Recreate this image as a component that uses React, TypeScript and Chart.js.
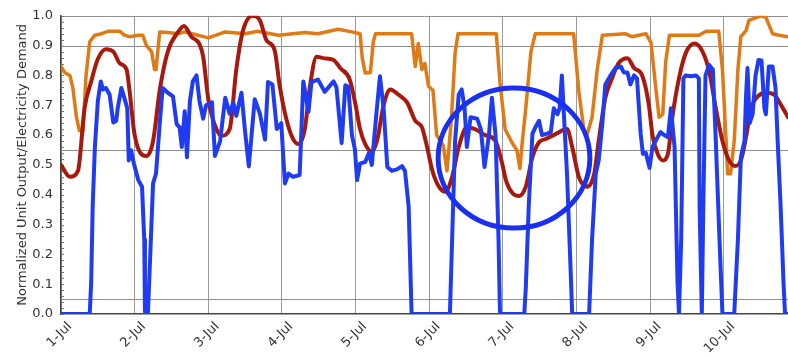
import React, { useEffect, useRef } from 'react';
import { Chart, registerables } from 'chart.js';

Chart.register(...registerables);

const FONT = '"DejaVu Sans", Verdana, sans-serif';

const dayTicks = [0, 1, 2, 3, 4, 5, 6, 7, 8, 9];
const dayLabels = ['1-Jul', '2-Jul', '3-Jul', '4-Jul', '5-Jul', '6-Jul', '7-Jul', '8-Jul', '9-Jul', '10-Jul'];
const xMin = 0;
const xMax = 9.87;
const yMin = 0;
const yMax = 1;
const yStep = 0.1;
const minorStep = 0.02;
const refLines = [0.05, 0.55, 0.9, 1.0];
const yTitle = 'Normalized Unit Output/Electricity Demand';

// [day offset from 1-Jul, normalized value]
const unitOutput: [number, number][] = [
  [0, 0], [0.39, 0], [0.41, 0.107], [0.43, 0.36], [0.46, 0.56], [0.5, 0.714], [0.54, 0.78], [0.57, 0.753], [0.61, 0.758], [0.66, 0.736],
  [0.71, 0.642], [0.75, 0.648], [0.77, 0.69], [0.82, 0.758], [0.86, 0.725], [0.9, 0.69], [0.92, 0.515], [0.95, 0.549], [0.99, 0.504], [1.05, 0.449],
  [1.1, 0.427], [1.13, 0.25], [1.14, 0.008], [1.18, 0], [1.22, 0.25], [1.25, 0.438], [1.29, 0.471], [1.34, 0.637], [1.38, 0.758], [1.45, 0.742],
  [1.52, 0.73], [1.57, 0.637], [1.61, 0.626], [1.64, 0.56], [1.68, 0.68], [1.71, 0.526], [1.75, 0.714], [1.79, 0.78], [1.84, 0.8], [1.88, 0.714],
  [1.93, 0.655], [1.97, 0.7], [2.05, 0.71], [2.09, 0.53], [2.16, 0.58], [2.23, 0.725], [2.29, 0.672], [2.34, 0.709], [2.38, 0.665], [2.45, 0.742],
  [2.5, 0.61], [2.55, 0.495], [2.63, 0.72], [2.7, 0.672], [2.77, 0.585], [2.81, 0.778], [2.87, 0.77], [2.93, 0.62], [2.99, 0.64], [3.04, 0.438],
  [3.09, 0.471], [3.15, 0.46], [3.24, 0.466], [3.29, 0.78], [3.36, 0.678], [3.4, 0.778], [3.49, 0.786], [3.58, 0.745], [3.7, 0.78], [3.74, 0.76],
  [3.81, 0.573], [3.86, 0.767], [3.9, 0.762], [3.95, 0.6], [3.99, 0.552], [4.02, 0.449], [4.06, 0.504], [4.13, 0.51], [4.18, 0.54], [4.22, 0.5],
  [4.27, 0.64], [4.33, 0.797], [4.38, 0.69], [4.43, 0.493], [4.49, 0.48], [4.56, 0.485], [4.63, 0.496], [4.67, 0.48], [4.72, 0.36], [4.76, 0],
  [5.28, 0], [5.31, 0.25], [5.35, 0.58], [5.4, 0.736], [5.44, 0.753], [5.48, 0.69], [5.51, 0.56], [5.56, 0.66], [5.65, 0.655], [5.7, 0.62],
  [5.75, 0.493], [5.81, 0.6], [5.85, 0.725], [5.9, 0.6], [5.94, 0.25], [5.96, 0], [6.29, 0], [6.31, 0.086], [6.35, 0.36], [6.4, 0.604],
  [6.44, 0.626], [6.49, 0.648], [6.53, 0.6], [6.6, 0.605], [6.65, 0.61], [6.69, 0.69], [6.74, 0.67], [6.77, 0.69], [6.8, 0.8], [6.84, 0.61],
  [6.87, 0.47], [6.92, 0.14], [6.94, 0], [7.17, 0], [7.21, 0.25], [7.26, 0.47], [7.3, 0.515], [7.35, 0.64], [7.39, 0.77], [7.46, 0.8],
  [7.53, 0.825], [7.6, 0.83], [7.64, 0.81], [7.69, 0.81], [7.73, 0.77], [7.78, 0.8], [7.82, 0.79], [7.87, 0.604], [7.9, 0.537], [7.94, 0.54],
  [7.99, 0.49], [8.03, 0.56], [8.1, 0.593], [8.14, 0.61], [8.19, 0.6], [8.24, 0.593], [8.28, 0.69], [8.33, 0.56], [8.37, 0.107], [8.39, 0],
  [8.42, 0.25], [8.45, 0.79], [8.48, 0.8], [8.55, 0.797], [8.62, 0.8], [8.66, 0.79], [8.67, 0.36], [8.7, 0], [8.72, 0.36], [8.75, 0.8],
  [8.8, 0.835], [8.85, 0.82], [8.89, 0.58], [8.94, 0.25], [8.98, 0], [9.14, 0], [9.19, 0.25], [9.23, 0.526], [9.28, 0.58], [9.3, 0.73],
  [9.32, 0.825], [9.35, 0.64], [9.39, 0.67], [9.43, 0.8], [9.47, 0.852], [9.51, 0.85], [9.55, 0.69], [9.57, 0.67], [9.61, 0.83], [9.66, 0.83],
  [9.7, 0.76], [9.73, 0.58], [9.77, 0.36], [9.81, 0.1], [9.83, 0], [9.87, 0],
];

const demand: [number, number][] = [
  [0, 0.5], [0.12, 0.46], [0.23, 0.48], [0.32, 0.69], [0.41, 0.78], [0.5, 0.855], [0.61, 0.888], [0.71, 0.88], [0.8, 0.84], [0.89, 0.82],
  [0.93, 0.75], [1.0, 0.6], [1.16, 0.53], [1.25, 0.58], [1.34, 0.75], [1.45, 0.88], [1.59, 0.946], [1.67, 0.966], [1.77, 0.93], [1.88, 0.905],
  [1.93, 0.863], [2.0, 0.72], [2.11, 0.62], [2.18, 0.598], [2.29, 0.62], [2.38, 0.82], [2.47, 0.95], [2.6, 1.0], [2.7, 0.985], [2.79, 0.918],
  [2.9, 0.885], [2.97, 0.764], [3.06, 0.653], [3.15, 0.587], [3.22, 0.57], [3.31, 0.62], [3.38, 0.764], [3.47, 0.863], [3.56, 0.858], [3.7, 0.852],
  [3.79, 0.825], [3.92, 0.786], [4.0, 0.7], [4.06, 0.62], [4.13, 0.57], [4.22, 0.545], [4.29, 0.58], [4.38, 0.7], [4.47, 0.753], [4.58, 0.736],
  [4.7, 0.709], [4.81, 0.648], [4.9, 0.626], [4.97, 0.56], [5.04, 0.482], [5.13, 0.427], [5.22, 0.41], [5.31, 0.46], [5.4, 0.56], [5.51, 0.626],
  [5.62, 0.62], [5.76, 0.6], [5.9, 0.58], [5.99, 0.504], [6.04, 0.449], [6.13, 0.405], [6.22, 0.396], [6.31, 0.427], [6.4, 0.526], [6.49, 0.576],
  [6.58, 0.587], [6.72, 0.604], [6.87, 0.62], [6.94, 0.56], [7.03, 0.46], [7.14, 0.427], [7.24, 0.471], [7.3, 0.58], [7.39, 0.725], [7.48, 0.79],
  [7.57, 0.841], [7.69, 0.858], [7.78, 0.825], [7.89, 0.8], [7.98, 0.703], [8.03, 0.6], [8.1, 0.537], [8.17, 0.515], [8.24, 0.537], [8.3, 0.66],
  [8.39, 0.79], [8.48, 0.874], [8.6, 0.907], [8.71, 0.88], [8.8, 0.814], [8.89, 0.69], [8.98, 0.58], [9.07, 0.515], [9.15, 0.496], [9.23, 0.515],
  [9.3, 0.593], [9.37, 0.69], [9.46, 0.73], [9.57, 0.742], [9.68, 0.736], [9.77, 0.703], [9.87, 0.66],
];

const baseUnit: [number, number][] = [
  [0, 0.83], [0.05, 0.81], [0.12, 0.8], [0.16, 0.76], [0.21, 0.66], [0.25, 0.615], [0.3, 0.615], [0.34, 0.8], [0.39, 0.913], [0.46, 0.935],
  [0.55, 0.94], [0.64, 0.948], [0.8, 0.948], [0.86, 0.935], [0.93, 0.93], [1.05, 0.935], [1.11, 0.935], [1.16, 0.9], [1.23, 0.88], [1.27, 0.82],
  [1.29, 0.82], [1.34, 0.946], [1.45, 0.944], [1.59, 0.94], [1.68, 0.946], [1.86, 0.935], [2.0, 0.926], [2.23, 0.946], [2.5, 0.94], [2.67, 0.948],
  [2.95, 0.935], [3.31, 0.944], [3.49, 0.94], [3.76, 0.955], [3.95, 0.946], [4.06, 0.94], [4.09, 0.858], [4.13, 0.808], [4.2, 0.81], [4.24, 0.913],
  [4.27, 0.94], [4.76, 0.94], [4.81, 0.83], [4.85, 0.907], [4.9, 0.82], [4.94, 0.84], [4.99, 0.764], [5.05, 0.75], [5.1, 0.6], [5.19, 0.565],
  [5.24, 0.48], [5.3, 0.653], [5.35, 0.874], [5.39, 0.94], [5.91, 0.94], [5.96, 0.775], [6.03, 0.62], [6.12, 0.576], [6.19, 0.549], [6.23, 0.488],
  [6.26, 0.57], [6.31, 0.69], [6.38, 0.88], [6.44, 0.94], [6.96, 0.94], [7.03, 0.747], [7.1, 0.615], [7.14, 0.6], [7.21, 0.66], [7.28, 0.82],
  [7.35, 0.935], [7.66, 0.94], [7.75, 0.93], [7.94, 0.94], [8.01, 0.91], [8.08, 0.747], [8.12, 0.66], [8.17, 0.67], [8.21, 0.847], [8.26, 0.935],
  [8.66, 0.935], [8.76, 0.948], [8.93, 0.948], [8.98, 0.82], [9.03, 0.58], [9.05, 0.47], [9.09, 0.47], [9.14, 0.58], [9.19, 0.82], [9.23, 0.93],
  [9.3, 0.95], [9.34, 0.985], [9.5, 1.0], [9.57, 0.995], [9.66, 0.94], [9.75, 0.935], [9.87, 0.93],
];

// highlight ellipse, in data units (center day, center value, radius in days, radius in value)
const highlight = { x: 6.15, y: 0.523, rx: 1.03, ry: 0.235 };

const toXY = (pts: [number, number][]) => pts.map(([x, y]) => ({ x, y }));

const overlayPlugin = {
  id: 'overlay',
  beforeDatasetsDraw(chart: any) {
    const { ctx, chartArea, scales } = chart;
    const ys = scales.y;
    ctx.save();
    ctx.strokeStyle = '#8f8f8f';
    ctx.lineWidth = 1;
    refLines.forEach((v) => {
      const py = Math.round(ys.getPixelForValue(v)) + 0.5;
      ctx.beginPath();
      ctx.moveTo(chartArea.left, py);
      ctx.lineTo(chartArea.right, py);
      ctx.stroke();
    });
    ctx.strokeStyle = '#777';
    const n = Math.round((yMax - yMin) / minorStep);
    for (let i = 0; i <= n; i++) {
      const py = Math.round(ys.getPixelForValue(yMin + i * minorStep)) + 0.5;
      ctx.beginPath();
      ctx.moveTo(chartArea.left, py);
      ctx.lineTo(chartArea.left + 3, py);
      ctx.stroke();
    }
    ctx.restore();
  },
  afterDatasetsDraw(chart: any) {
    const { ctx, scales } = chart;
    const xs = scales.x;
    const ys = scales.y;
    const cx = xs.getPixelForValue(highlight.x);
    const cy = ys.getPixelForValue(highlight.y);
    const rx = Math.abs(xs.getPixelForValue(highlight.x + highlight.rx) - cx);
    const ry = Math.abs(ys.getPixelForValue(highlight.y + highlight.ry) - cy);
    ctx.save();
    ctx.strokeStyle = '#1a30f0';
    ctx.lineWidth = 5;
    ctx.beginPath();
    ctx.ellipse(cx, cy, rx, ry, 0, 0, Math.PI * 2);
    ctx.stroke();
    ctx.restore();
  },
};

export default function App() {
  const ref = useRef<HTMLCanvasElement | null>(null);

  useEffect(() => {
    if (!ref.current) return;
    const lineStyle = {
      pointRadius: 0,
      borderWidth: 4,
      borderJoinStyle: 'round' as const,
      borderCapStyle: 'round' as const,
      fill: false,
    };
    const chart = new Chart(ref.current, {
      type: 'line',
      data: {
        datasets: [
          { ...lineStyle, label: 'Unit output', data: toXY(unitOutput), borderColor: '#1f3cf2', tension: 0 },
          { ...lineStyle, label: 'Electricity demand', data: toXY(demand), borderColor: '#a8190d', cubicInterpolationMode: 'monotone' },
          { ...lineStyle, label: 'Base unit', data: toXY(baseUnit), borderColor: '#e07a14', borderWidth: 3.5, tension: 0 },
        ],
      },
      options: {
        animation: false,
        responsive: true,
        maintainAspectRatio: false,
        events: [],
        layout: { padding: { top: 12, right: 0, bottom: 0, left: 0 } },
        plugins: { legend: { display: false }, tooltip: { enabled: false } },
        scales: {
          x: {
            type: 'linear',
            min: xMin,
            max: xMax,
            afterBuildTicks: (s: any) => {
              s.ticks = dayTicks.map((v) => ({ value: v }));
            },
            afterFit: (s: any) => {
              s.height = 44;
              s.paddingLeft = 0;
              s.paddingRight = 0;
            },
            ticks: {
              autoSkip: false,
              minRotation: 45,
              maxRotation: 45,
              padding: 5,
              labelOffset: 9,
              color: '#333',
              font: { family: FONT, size: 13 },
              callback: (v: any) => dayLabels[dayTicks.indexOf(Number(v))] ?? '',
            },
            grid: { color: '#9a9a9a', lineWidth: 1, drawTicks: false },
            border: { color: '#444', width: 1.5 },
          },
          y: {
            min: yMin,
            max: yMax,
            afterFit: (s: any) => {
              s.width = 61;
            },
            ticks: {
              stepSize: yStep,
              padding: 8,
              color: '#333',
              font: { family: FONT, size: 13 },
              callback: (v: any) => Number(v).toFixed(1),
            },
            grid: { drawOnChartArea: false, drawTicks: false },
            border: { color: '#444', width: 1.5 },
            title: {
              display: true,
              text: yTitle,
              color: '#333',
              font: { family: FONT, size: 13 },
              padding: { top: 15, bottom: 0 },
            },
          },
        },
      },
      plugins: [overlayPlugin],
    } as any);
    return () => chart.destroy();
  }, []);

  return (
    <div style={{ position: 'fixed', left: 0, top: 0, width: 788, height: 358, background: '#fff' }}>
      <canvas ref={ref} />
    </div>
  );
}
